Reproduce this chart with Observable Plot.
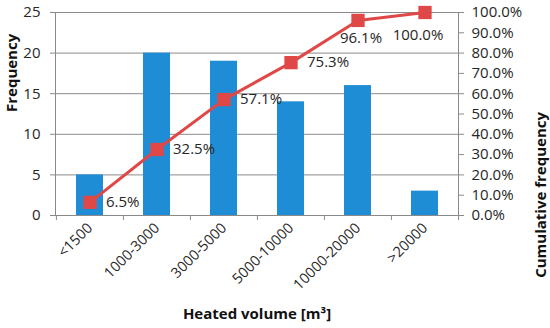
<!DOCTYPE html>
<html>
<head>
<meta charset="utf-8">
<script src="https://cdn.jsdelivr.net/npm/d3@7"></script>
<script src="https://cdn.jsdelivr.net/npm/@observablehq/plot@0.6"></script>
<style>
  html, body { margin: 0; padding: 0; background: #fff; }
  #chart svg { display: block; }
</style>
</head>
<body>
<div id="chart"></div>
<script>
const categories = ["<1500", "1000-3000", "3000-5000", "5000-10000", "10000-20000", ">20000"];
const frequency = [5, 20, 19, 14, 16, 3];
const cumulativePct = [6.5, 32.5, 57.1, 75.3, 96.1, 100.0];
const freqTicks = [0, 5, 10, 15, 20, 25];
const pctTicks = [0, 10, 20, 30, 40, 50, 60, 70, 80, 90, 100];

const W = 550, H = 328;
const mL = 55, mR = 92, mT = 12, mB = 113;
const step = (W - mL - mR) / categories.length;
const FMAX = 25;
const toY = p => p / 100 * FMAX;

const rows = categories.map((c, i) => ({
  cat: c, freq: frequency[i], cum: cumulativePct[i], i,
  label: cumulativePct[i].toFixed(1) + "%"
}));

const grey = "#8a8a8a";
const txt = "#262626";
const font = "Open Sans";
const fs = "15px";
const tfs = "15px";

const chart = Plot.plot({
  width: W, height: H,
  marginLeft: mL, marginRight: mR, marginTop: mT, marginBottom: mB,
  style: { fontFamily: font, fontSize: fs, color: txt, background: "#fff" },
  x: { domain: categories, paddingInner: 0.6, paddingOuter: 0.3 },
  y: { domain: [0, FMAX] },
  marks: [
    Plot.gridY(freqTicks, { stroke: grey, strokeOpacity: 1, strokeWidth: 1 }),
    Plot.barY(rows, { x: "cat", y: "freq", fill: "#1f8dd6" }),
    Plot.frame({ stroke: grey }),
    Plot.axisY({ anchor: "left", ticks: freqTicks, tickSize: 5, tickPadding: 10, stroke: grey, fill: txt, label: null, fontSize: fs }),
    Plot.axisY({ anchor: "right", ticks: pctTicks.map(toY), tickFormat: v => (v / FMAX * 100).toFixed(1) + "%", tickSize: 5, tickPadding: 8, stroke: grey, fill: txt, label: null, fontSize: fs }),
    Plot.axisX({ ticks: categories, tickFormat: () => "", tickSize: 5, dx: -step / 2, stroke: grey, label: null }),
    Plot.axisX({ ticks: categories.slice(-1), tickFormat: () => "", tickSize: 5, dx: step / 2, stroke: grey, label: null }),
    Plot.axisX({ ticks: categories, tickSize: 0, tickPadding: 10, tickRotate: -45, fill: txt, label: null, fontSize: "14.5px" }),
    Plot.line(rows, { x: "cat", y: d => toY(d.cum), stroke: "#e04848", strokeWidth: 3 }),
    Plot.dot(rows, { x: "cat", y: d => toY(d.cum), symbol: "square", r: 7.5, fill: "#e04848", stroke: "none" }),
    Plot.text(rows.filter(d => d.i < 4), { x: "cat", y: d => toY(d.cum), text: "label", textAnchor: "start", dx: 16, fill: txt, fontSize: fs }),
    Plot.text(rows.filter(d => d.i === 4), { x: "cat", y: d => toY(d.cum), text: "label", dx: 3, dy: 18, fill: txt, fontSize: fs }),
    Plot.text(rows.filter(d => d.i === 5), { x: "cat", y: d => toY(d.cum), text: "label", dx: -7, dy: 23, fill: txt, fontSize: fs }),
    Plot.text(["Frequency"], { frameAnchor: "left", dx: -43, dy: -2, rotate: -90, fontWeight: "bold", fontSize: tfs, fill: "#111" }),
    Plot.text(["Cumulative frequency"], { frameAnchor: "right", dx: 83, dy: -2, rotate: -90, fontWeight: "bold", fontSize: tfs, fill: "#111" }),
    Plot.text(["Heated volume [m³]"], { frameAnchor: "bottom", dy: 103, fontWeight: "bold", fontSize: tfs, fill: "#111" })
  ]
});
document.getElementById("chart").appendChild(chart);
</script>
</body>
</html>
